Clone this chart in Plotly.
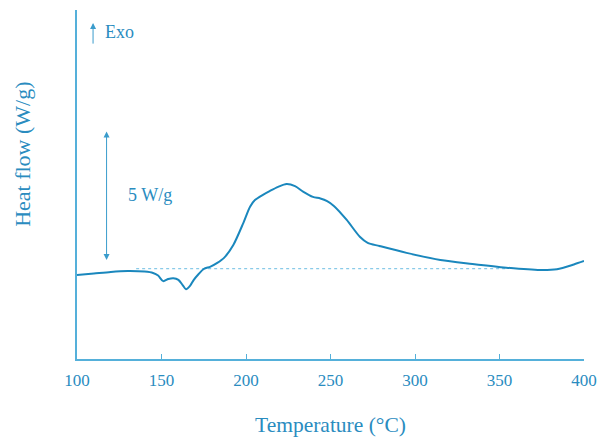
import plotly.graph_objects as go

temperature = [100, 110, 120, 130, 140, 145, 148, 151, 154, 157, 160, 162.5, 164.5, 167, 169, 172,
               175, 179, 183, 187, 192.5, 198.4, 202.4, 205.3, 210, 214, 219, 224, 229, 234,
               239.6, 244, 248, 252, 259.6, 267.5, 272, 279, 295, 315, 334, 354, 374, 384, 394, 400]
heat_flow = [3.18, 3.24, 3.30, 3.33, 3.31, 3.26, 3.16, 2.95, 3.03, 3.06, 3.00, 2.80, 2.64, 2.78, 2.99, 3.22,
             3.41, 3.50, 3.64, 3.83, 4.32, 5.15, 5.77, 6.02, 6.22, 6.36, 6.52, 6.63, 6.55, 6.33,
             6.14, 6.08, 5.98, 5.80, 5.27, 4.62, 4.40, 4.28, 4.02, 3.75, 3.60, 3.46, 3.37, 3.40, 3.58, 3.71]
baseline_t = [135, 355]
baseline_v = [3.42, 3.42]
x_ticks = [100, 150, 200, 250, 300, 350, 400]
scale_bar = [3.75, 8.67]   # 5 W/g
scale_bar_t = 117.5
exo_arrow = [11.89, 12.73]
exo_t = 109.5

LINE = "#1a87bd"
AXIS = "#55b0da"
TEXT = "#2a8cbf"
FONT = "Liberation Serif"

fig = go.Figure()
fig.add_trace(go.Scatter(x=baseline_t, y=baseline_v, mode="lines",
                         line=dict(color="#6cbde3", width=1, dash="dot"), hoverinfo="skip"))
fig.add_trace(go.Scatter(x=temperature, y=heat_flow, mode="lines",
                         line=dict(color=LINE, width=2, shape="spline", smoothing=0.8)))

ann = []
# 5 W/g double arrow
ann.append(dict(x=scale_bar_t, y=scale_bar[0], ax=scale_bar_t, ay=scale_bar[1], xref="x", yref="y",
                axref="x", ayref="y", showarrow=True, arrowhead=2, arrowside="end+start",
                arrowsize=1.2, arrowwidth=1, arrowcolor="#3a9ccc", text=""))
ann.append(dict(x=143.2, y=6.2, xref="x", yref="y", text="5 W/g", showarrow=False,
                font=dict(family=FONT, size=18, color=TEXT)))
# Exo arrow
ann.append(dict(x=exo_t, y=exo_arrow[1], ax=exo_t, ay=exo_arrow[0], xref="x", yref="y", axref="x", ayref="y",
                showarrow=True, arrowhead=2, arrowsize=1.2, arrowwidth=1, arrowcolor="#3a9ccc", text=""))
ann.append(dict(x=115.2, y=12.39, xref="x", yref="y", text="Exo", showarrow=False, xanchor="left",
                yanchor="middle", font=dict(family=FONT, size=18, color=TEXT)))
# axis titles
ann.append(dict(x=-0.109, y=0.587, xref="paper", yref="paper", text="Heat flow (W/g)", textangle=-90,
                xanchor="center", yanchor="middle",
                showarrow=False, font=dict(family=FONT, size=22, color=TEXT)))
ann.append(dict(x=0.5, y=-0.188, xref="paper", yref="paper", text="Temperature (°C)",
                xanchor="center", yanchor="middle",
                showarrow=False, font=dict(family=FONT, size=21.5, color=TEXT)))

fig.update_layout(
    width=598, height=437, margin=dict(l=77, r=14, t=10, b=78, autoexpand=False),
    paper_bgcolor="white", plot_bgcolor="white", showlegend=False,
    annotations=ann,
    xaxis=dict(range=[100, 400], tickvals=x_ticks, ticks="inside", ticklen=5, tickcolor=AXIS,
               showline=True, linecolor=AXIS, linewidth=2, showgrid=False, zeroline=False,
               automargin=False, ticklabelstandoff=5,
               tickfont=dict(family=FONT, size=17, color=TEXT)),
    yaxis=dict(range=[0, 13.22], showticklabels=False, ticks="", showline=True, linecolor=AXIS,
               linewidth=2, showgrid=False, zeroline=False, automargin=False),
)
fig.write_html("out.html")
